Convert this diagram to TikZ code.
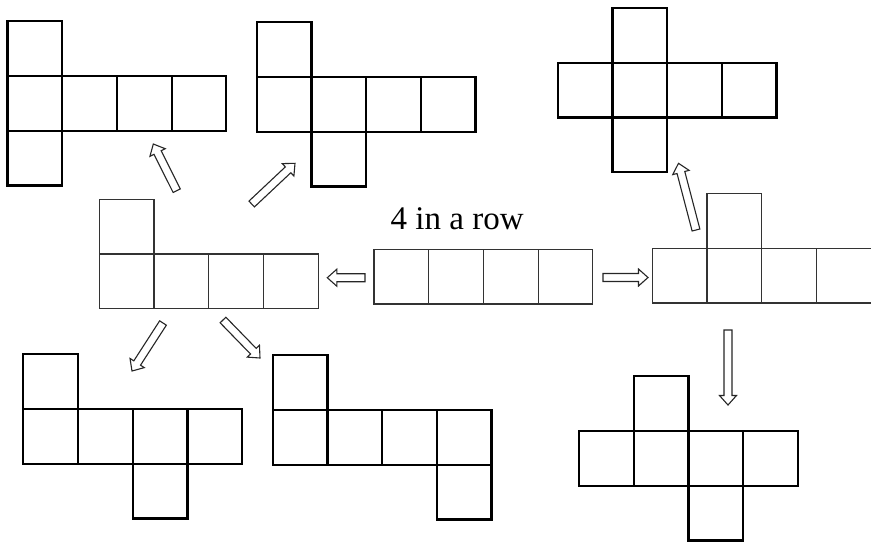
\documentclass[tikz,border=0pt]{standalone}
\usepackage{fontspec}
\setmainfont{Liberation Serif}
\usetikzlibrary{calc}
\tikzset{
  thickcell/.style={draw=black, line width=2.2pt, minimum size=54.7pt, inner sep=0pt, outer sep=0pt, anchor=north west},
  thincell/.style={draw=black!80, line width=1.1pt, minimum size=54.7pt, inner sep=0pt, outer sep=0pt, anchor=north west},
  arrowline/.style={draw=black!85, line width=1.1pt, fill=white, line join=miter},
  titletext/.style={anchor=base west, inner sep=0pt, font=\fontsize{33}{38}\selectfont}
}
\newcommand{\netrow}[4]{% name, x, y, style
  \foreach \i in {0,1,2,3}{\node[#4] (#1-\i) at ({#2+\i*54.7},#3) {};}}
\newcommand{\blockarrow}[2]{% tail, tip
  \coordinate (#1-h) at ($(#2)!9.5pt!(#1)$);
  \path[arrowline] ($(#1)!4pt!90:(#2)$) -- ($(#1-h)!4pt!90:(#2)$) -- ($(#1-h)!8.5pt!90:(#2)$) -- (#2)
    -- ($(#1-h)!8.5pt!-90:(#2)$) -- ($(#1-h)!4pt!-90:(#2)$) -- ($(#1)!4pt!-90:(#2)$) -- cycle;}
\begin{document}
\begin{tikzpicture}[x=1pt,y=-1pt]
\useasboundingbox (0,0) rectangle (871,542);
% net 1
\netrow{n1}{7.5}{76}{thickcell}
\node[thickcell] (n1-t) at (7.5,{76-54.7}) {};
\node[thickcell] (n1-b) at (7.5,{76+54.7}) {};
% net 2
\netrow{n2}{256.7}{77}{thickcell}
\node[thickcell] (n2-t) at (256.7,{77-54.7}) {};
\node[thickcell] (n2-b) at ({256.7+54.7},{77+54.7}) {};
% net 3
\netrow{n3}{557.7}{62.7}{thickcell}
\node[thickcell] (n3-t) at ({557.7+54.7},{62.7-54.7}) {};
\node[thickcell] (n3-b) at ({557.7+54.7},{62.7+54.7}) {};
% net 4
\netrow{n4}{99.3}{254}{thincell}
\node[thincell] (n4-t) at (99.3,{254-54.7}) {};
% net 5
\netrow{n5}{374}{249.3}{thincell}
\node[titletext] (title) at (390.5,229.3) {4 in a row};
% net 6
\netrow{n6}{652.3}{248.3}{thincell}
\node[thincell] (n6-t) at ({652.3+54.7},{248.3-54.7}) {};
% net 7
\netrow{n7}{23.3}{409}{thickcell}
\node[thickcell] (n7-t) at (23.3,{409-54.7}) {};
\node[thickcell] (n7-b) at ({23.3+2*54.7},{409+54.7}) {};
% net 8
\netrow{n8}{272.7}{410}{thickcell}
\node[thickcell] (n8-t) at (272.7,{410-54.7}) {};
\node[thickcell] (n8-b) at ({272.7+3*54.7},{410+54.7}) {};
% net 9
\netrow{n9}{579}{431}{thickcell}
\node[thickcell] (n9-t) at ({579+54.7},{431-54.7}) {};
\node[thickcell] (n9-b) at ({579+2*54.7},{431+54.7}) {};
% arrows
\coordinate (a1) at (176.7,190.7); \coordinate (a1x) at (153.3,144);
\coordinate (a2) at (251.7,204);   \coordinate (a2x) at (295,163.3);
\coordinate (a3) at (365,277.7);   \coordinate (a3x) at (327.3,277.7);
\coordinate (a4) at (603,277.5);   \coordinate (a4x) at (648,277.5);
\coordinate (a5) at (696,230);     \coordinate (a5x) at (678.5,163.3);
\coordinate (a6) at (728,330);     \coordinate (a6x) at (728,405);
\coordinate (a7) at (163,323);     \coordinate (a7x) at (132,371);
\coordinate (a8) at (223,320);     \coordinate (a8x) at (260,358);
\blockarrow{a1}{a1x}
\blockarrow{a2}{a2x}
\blockarrow{a3}{a3x}
\blockarrow{a4}{a4x}
\blockarrow{a5}{a5x}
\blockarrow{a6}{a6x}
\blockarrow{a7}{a7x}
\blockarrow{a8}{a8x}
\end{tikzpicture}
\end{document}
